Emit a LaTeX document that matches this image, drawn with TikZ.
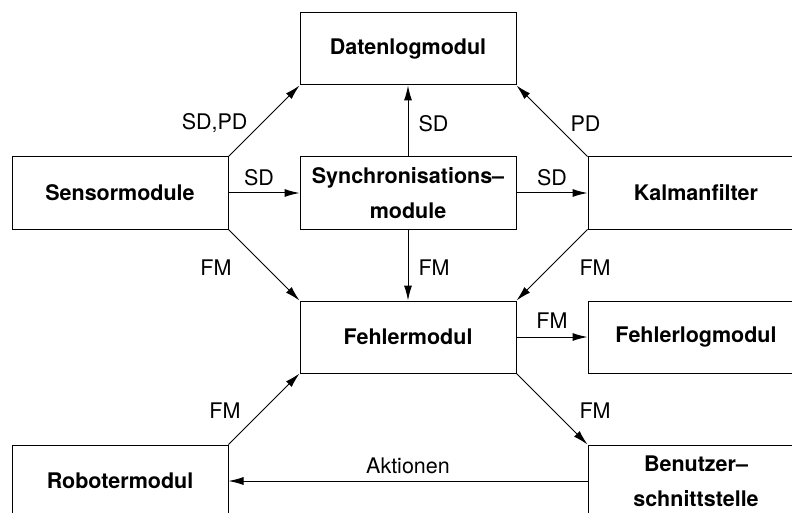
\documentclass[tikz,border=0pt]{standalone}
\usepackage{fontspec}
\setmainfont{TeX Gyre Heros}
\usetikzlibrary{arrows.meta}
\begin{document}
\begin{tikzpicture}[x=1pt,y=-1pt,
  modbox/.style={draw, line width=1pt, minimum width=216pt, minimum height=72pt,
    inner sep=0pt, align=center, font=\fontsize{21.5}{35}\selectfont\bfseries},
  arr/.style={line width=1pt, -{Latex[length=15pt,width=8pt]}},
  lbl/.style={inner sep=0pt, font=\fontsize{21.5}{26}\selectfont}]
\useasboundingbox (0,0) rectangle (792,513);
\clip (0,0) rectangle (792,513);

% module boxes on a 288 x 144 grid
\node[modbox] (dat) at (408,49)  {Datenlogmodul};
\node[modbox] (sen) at (120,193) {Sensormodule};
\node[modbox] (syn) at (408,193) {Synchronisations–\\module};
\node[modbox] (kal) at (696,193) {Kalmanfilter};
\node[modbox] (feh) at (408,337) {Fehlermodul};
\node[modbox] (flg) at (696,337) {Fehlerlogmodul};
\node[modbox] (rob) at (120,481) {Robotermodul};
\node[modbox] (ben) at (696,481) {Benutzer–\\schnittstelle};

% data flows
\draw[arr] (sen.north east) -- (dat.south west)
  node[lbl, midway, anchor=east, xshift=-16pt, yshift=-2pt] {SD,PD};
\draw[arr] (sen.east) -- (syn.west)
  node[lbl, midway, anchor=south, xshift=-5pt, yshift=7pt] {SD};
\draw[arr] (sen.south east) -- (feh.north west)
  node[lbl, midway, anchor=east, xshift=-32pt, yshift=-3pt] {FM};
\draw[arr] (syn.north) -- (dat.south)
  node[lbl, midway, anchor=west, xshift=10pt, yshift=-3pt] {SD};
\draw[arr] (syn.east) -- (kal.west)
  node[lbl, midway, anchor=south, yshift=7pt] {SD};
\draw[arr] (syn.south) -- (feh.north)
  node[lbl, midway, anchor=west, xshift=10pt, yshift=-3pt] {FM};
\draw[arr] (kal.north west) -- (dat.south east)
  node[lbl, midway, anchor=west, xshift=18pt, yshift=-3pt] {PD};
\draw[arr] (kal.south west) -- (feh.north east)
  node[lbl, midway, anchor=west, xshift=27pt, yshift=-3pt] {FM};
\draw[arr] (feh.east) -- (flg.west)
  node[lbl, midway, anchor=south, yshift=8pt] {FM};
\draw[arr] (feh.south east) -- (ben.north west)
  node[lbl, midway, anchor=west, xshift=27pt, yshift=-2pt] {FM};
\draw[arr] (rob.north east) -- (feh.south west)
  node[lbl, midway, anchor=east, xshift=-23pt, yshift=-2pt] {FM};
\draw[arr] (ben.west) -- (rob.east)
  node[lbl, midway, anchor=south, yshift=7pt] {Aktionen};
\end{tikzpicture}
\end{document}
